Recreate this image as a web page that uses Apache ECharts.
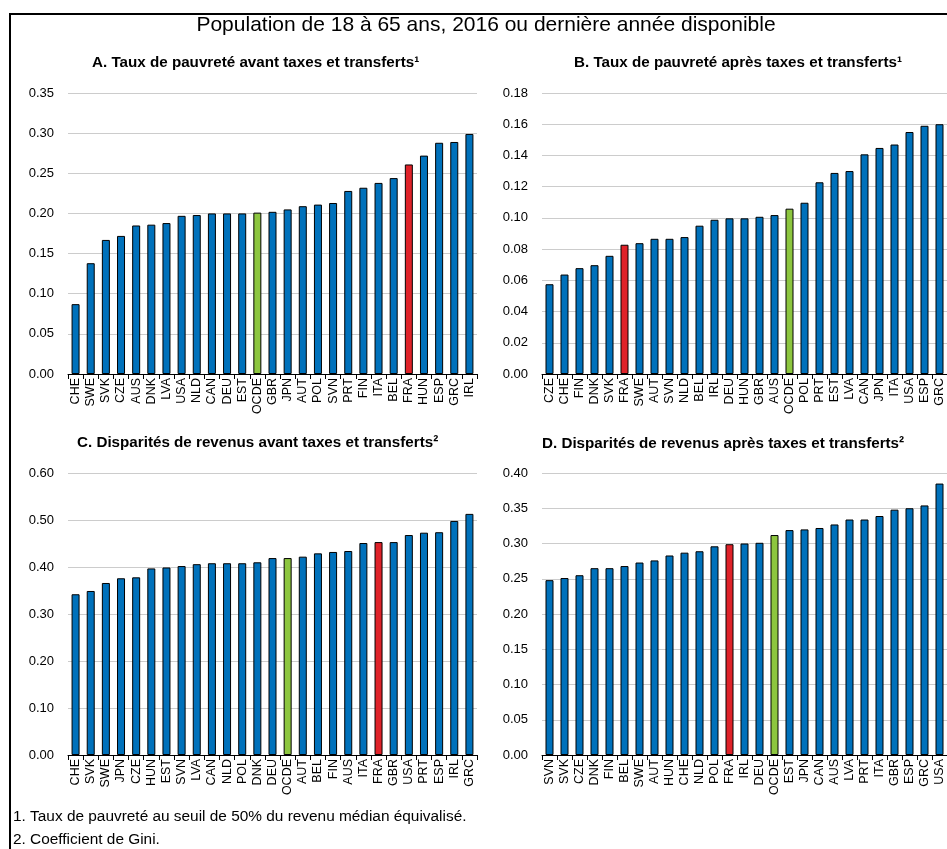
<!DOCTYPE html>
<html>
<head>
<meta charset="utf-8">
<script src="https://cdn.jsdelivr.net/npm/echarts@6/dist/echarts.min.js"></script>
<style>html,body{margin:0;padding:0;background:#fff}#c{width:947px;height:849px}</style>
</head>
<body>
<div id="c"></div>
<script>
// Panel A: poverty rate before taxes and transfers
const catsA = ['CHE','SWE','SVK','CZE','AUS','DNK','LVA','USA','NLD','CAN','DEU','EST','OCDE','GBR','JPN','AUT','POL','SVN','PRT','FIN','ITA','BEL','FRA','HUN','ESP','GRC','IRL'];
const valsA = [0.087,0.138,0.167,0.172,0.185,0.186,0.188,0.197,0.198,0.200,0.200,0.200,0.201,0.202,0.205,0.209,0.211,0.213,0.228,0.232,0.238,0.244,0.261,0.272,0.288,0.289,0.299];
// Panel B: poverty rate after taxes and transfers
const catsB = ['CZE','CHE','FIN','DNK','SVK','FRA','SWE','AUT','SVN','NLD','BEL','IRL','DEU','HUN','GBR','AUS','OCDE','POL','PRT','EST','LVA','CAN','JPN','ITA','USA','ESP','GRC'];
const valsB = [0.0575,0.0637,0.0678,0.0697,0.0757,0.0828,0.0838,0.0866,0.0866,0.0877,0.095,0.0988,0.0997,0.0997,0.1007,0.1018,0.1059,0.1097,0.1228,0.1288,0.130,0.1407,0.1448,0.147,0.155,0.159,0.160];
// Panel C: Gini before taxes and transfers
const catsC = ['CHE','SVK','SWE','JPN','CZE','HUN','EST','SVN','LVA','CAN','NLD','POL','DNK','DEU','OCDE','AUT','BEL','FIN','AUS','ITA','FRA','GBR','USA','PRT','ESP','IRL','GRC'];
const valsC = [0.342,0.349,0.366,0.376,0.378,0.397,0.399,0.402,0.406,0.408,0.408,0.408,0.410,0.419,0.419,0.422,0.429,0.432,0.434,0.451,0.453,0.453,0.468,0.473,0.474,0.498,0.513];
// Panel D: Gini after taxes and transfers
const catsD = ['SVN','SVK','CZE','DNK','FIN','BEL','SWE','AUT','HUN','CHE','NLD','POL','FRA','IRL','DEU','OCDE','EST','JPN','CAN','AUS','LVA','PRT','ITA','GBR','ESP','GRC','USA'];
const valsD = [0.248,0.251,0.255,0.265,0.265,0.268,0.273,0.276,0.283,0.287,0.289,0.296,0.299,0.300,0.301,0.312,0.319,0.320,0.322,0.327,0.334,0.334,0.339,0.348,0.350,0.354,0.385];

const yTicksA = {min:0, max:0.35, interval:0.05};
const yTicksB = {min:0, max:0.18, interval:0.02};
const yTicksC = {min:0, max:0.60, interval:0.10};
const yTicksD = {min:0, max:0.40, interval:0.05};

const mainTitle = 'Population de 18 à 65 ans, 2016 ou dernière année disponible';
const panelTitles = [
  'A. Taux de pauvreté avant taxes et transferts¹',
  'B. Taux de pauvreté après taxes et transferts¹',
  'C. Disparités de revenus avant taxes et transferts²',
  'D. Disparités de revenus après taxes et transferts²'
];
const notes = [
  '1. Taux de pauvreté au seuil de 50% du revenu médian équivalisé.',
  '2. Coefficient de Gini.'
];

const FONT = "'Liberation Sans', Arial, sans-serif";
const BLUE = '#0071BB', RED = '#DF2229', GREEN = '#8DC63F';

const grids = [
  {left:68, top:93, width:409, height:281},
  {left:542, top:93, width:409, height:281},
  {left:68, top:473, width:409, height:282},
  {left:542, top:473, width:409, height:282}
];
const cats = [catsA, catsB, catsC, catsD];
const vals = [valsA, valsB, valsC, valsD];
const yt = [yTicksA, yTicksB, yTicksC, yTicksD];

const option = {
  animation:false,
  backgroundColor:'#fff',
  grid: grids.map(g => Object.assign({containLabel:false}, g)),
  xAxis: cats.map((c,i) => ({
    type:'category', gridIndex:i, data:c,
    axisLine:{show:true, lineStyle:{color:'#000', width:1}},
    axisTick:{show:true, length:5, lineStyle:{color:'#000'}},
    axisLabel:{interval:0, rotate:90, fontSize:12.5, color:'#000', fontFamily:FONT, margin:4}
  })),
  yAxis: yt.map((t,i) => ({
    type:'value', gridIndex:i, min:t.min, max:t.max, interval:t.interval,
    axisLine:{show:false}, axisTick:{show:false},
    splitLine:{lineStyle:{color:'#cccccc', width:1}},
    axisLabel:{fontSize:13, color:'#000', fontFamily:FONT, margin:14, formatter:v => v.toFixed(2)}
  })),
  series: vals.map((v,i) => ({
    type:'bar', xAxisIndex:i, yAxisIndex:i, barWidth:8,
    data: v.map((val,j) => {
      const c = cats[i][j];
      return {value:val, itemStyle:{color: c==='FRA'?RED:(c==='OCDE'?GREEN:BLUE), borderColor:'#000', borderWidth:1}};
    })
  })),
  graphic: [
    {type:'rect', shape:{x:10, y:14, width:1000, height:1000}, style:{fill:'none', stroke:'#000', lineWidth:2}, silent:true},
    {type:'text', x:486, y:25, style:{text:mainTitle, font:'21px '+FONT, fill:'#000', textAlign:'center', textVerticalAlign:'middle'}},
    {type:'text', x:92, y:63, style:{text:panelTitles[0], font:'bold 15.2px '+FONT, fill:'#000', textAlign:'left', textVerticalAlign:'middle'}},
    {type:'text', x:574, y:63, style:{text:panelTitles[1], font:'bold 15.2px '+FONT, fill:'#000', textAlign:'left', textVerticalAlign:'middle'}},
    {type:'text', x:77, y:443, style:{text:panelTitles[2], font:'bold 15.2px '+FONT, fill:'#000', textAlign:'left', textVerticalAlign:'middle'}},
    {type:'text', x:542, y:444, style:{text:panelTitles[3], font:'bold 15.2px '+FONT, fill:'#000', textAlign:'left', textVerticalAlign:'middle'}},
    {type:'text', x:13, y:817, style:{text:notes[0], font:'15.4px '+FONT, fill:'#000', textAlign:'left', textVerticalAlign:'middle'}},
    {type:'text', x:13, y:840, style:{text:notes[1], font:'15.4px '+FONT, fill:'#000', textAlign:'left', textVerticalAlign:'middle'}}
  ]
};
const chart = echarts.init(document.getElementById('c'), null, {renderer:'canvas'});
chart.setOption(option);
</script>
</body>
</html>
